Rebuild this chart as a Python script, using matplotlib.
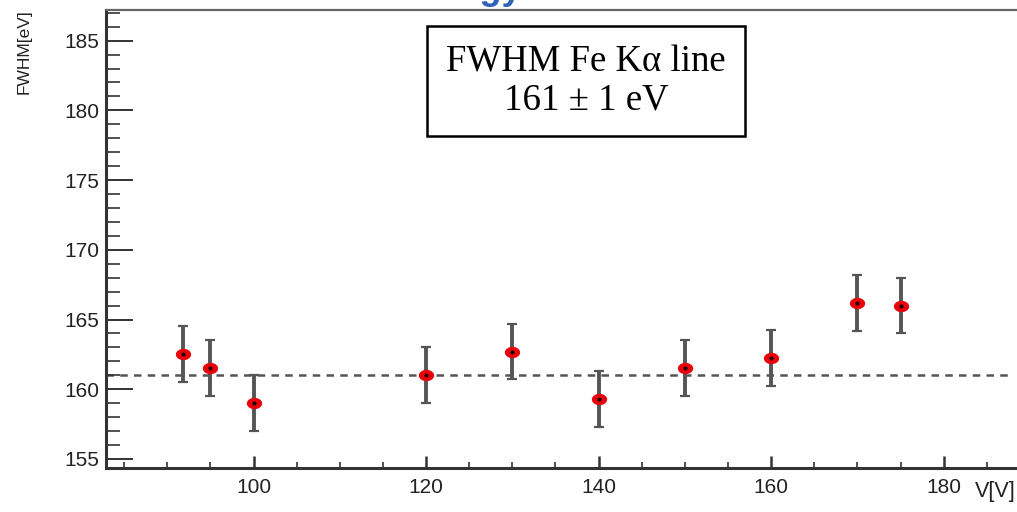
import numpy as np
import matplotlib
matplotlib.use('Agg')
import matplotlib.pyplot as plt
from matplotlib.ticker import MultipleLocator

# Dados
tensao = [91.8, 94.9, 100, 120, 130, 140, 150, 160, 170, 175]
fwhm = [162.5, 161.5, 159.0, 161.0, 162.7, 159.3, 161.55, 162.25, 166.2, 166.0]
erro = [2.0, 2.0, 2.0, 2.0, 2.0, 2.0, 2.0, 2.0, 2.0, 2.0]
fwhm_medio = 161.0
fit_x0, fit_x1 = 82.9, 187.9

fig = plt.figure(figsize=(10.17, 5.12), dpi=100)
W, H = 1017, 512
ax = fig.add_axes([106 / W, (H - 468) / H, (1030 - 106) / W, (468 - 10) / H])
ax.set_xlim(82.9, 190.0)
ax.set_ylim(154.35, 187.2)

# Marcador elíptico (a figura original está esticada na horizontal)
t = np.linspace(0, 2 * np.pi, 40)
elipse = np.column_stack([1.35 * np.cos(t), np.sin(t)])

# Linha do valor médio
ax.hlines(fwhm_medio, fit_x0, fit_x1, colors='#555555', linestyles=(0, (3, 2.5)), lw=1.8, zorder=1)

# Pontos com barras de erro
ax.errorbar(tensao, fwhm, yerr=erro, fmt='none', ecolor='#555555', elinewidth=2.8,
            capsize=3.5, capthick=1.6, zorder=2)
ax.plot(tensao, fwhm, linestyle='none', marker=elipse, color='#e8000b', markersize=11,
        markeredgewidth=0, zorder=3)
ax.plot(tensao, fwhm, linestyle='none', marker='o', color='#200000', markersize=3,
        markeredgewidth=0, zorder=4)

# Eixos estilo ROOT
ax.xaxis.set_major_locator(MultipleLocator(20))
ax.xaxis.set_minor_locator(MultipleLocator(5))
ax.yaxis.set_major_locator(MultipleLocator(5))
ax.yaxis.set_minor_locator(MultipleLocator(1))
ax.tick_params(axis='both', which='both', direction='in', colors='#333333', top=False, right=False)
ax.tick_params(axis='y', which='major', length=19.5, width=1.4, labelsize=15, pad=5)
ax.tick_params(axis='y', which='minor', length=10, width=1.2)
ax.tick_params(axis='x', which='major', length=9, width=1.8, labelsize=15, pad=7)
ax.tick_params(axis='x', which='minor', length=4.5, width=1.2)
for lbl in ax.get_xticklabels() + ax.get_yticklabels():
    lbl.set_fontfamily('Liberation Sans')
    lbl.set_color('#222222')

ax.spines['right'].set_visible(False)
ax.spines['left'].set_linewidth(2.2)
ax.spines['bottom'].set_linewidth(2.2)
ax.spines['left'].set_color('#333333')
ax.spines['bottom'].set_color('#333333')
ax.spines['top'].set_linewidth(1.6)
ax.spines['top'].set_color('#666666')

fig.text(24 / W, 1 - 9 / H, 'FWHM[eV]', rotation=90, ha='center', va='top',
         fontsize=12.5, family='Liberation Sans', color='#222222')
fig.text(1 - 1 / W, 1 - 491 / H, 'V[V]', ha='right', va='center',
         fontsize=15.5, family='Liberation Sans', color='#222222')

# Caixa de texto
fig.text(586 / W, 1 - 81 / H, 'FWHM Fe K\u03b1 line\n161 \u00b1 1 eV', ha='center', va='center',
         fontsize=26.5, family='Liberation Serif', linespacing=1.12,
         bbox=dict(boxstyle='square,pad=0.52', fc='white', ec='black', lw=1.8))

# Título azul cortado no topo
fig.text(522 / W, 1 + 1 / H, 'Energy', ha='right', va='baseline', fontsize=26,
         fontweight='bold', color='#2f62b8', family='Liberation Sans')

fig.savefig('out.png', dpi=100)
